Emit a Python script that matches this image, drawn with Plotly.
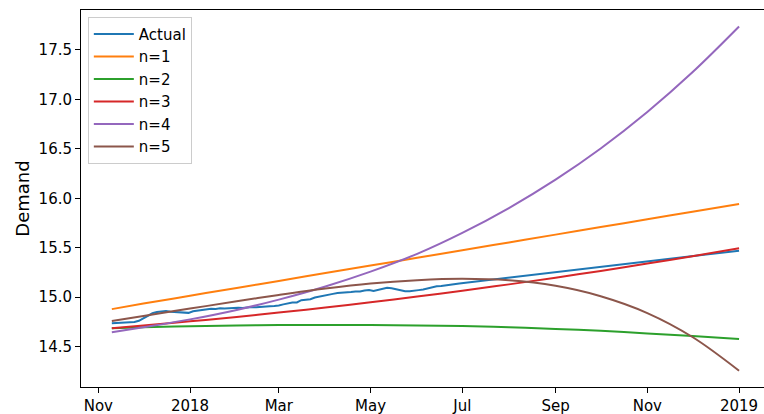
import pandas as pd
import plotly.graph_objects as go

# Observed demand, sampled every 3 days from 2017-11-10, plus the last reading
actual_start = "2017-11-10"
actual_values = [
    14.737, 14.740, 14.744, 14.748, 14.752, 14.749, 14.762, 14.788, 14.815, 14.838,
    14.852, 14.856, 14.861, 14.853, 14.850, 14.852, 14.843, 14.842, 14.858, 14.866,
    14.872, 14.878, 14.884, 14.882, 14.888, 14.886, 14.890, 14.887, 14.894, 14.892,
    14.898, 14.901, 14.899, 14.905, 14.908, 14.910, 14.912, 14.916, 14.928, 14.940,
    14.946, 14.947, 14.970, 14.975, 14.980, 14.997, 15.008, 15.018, 15.026, 15.034,
    15.042, 15.045, 15.042, 15.052, 15.057, 15.058, 15.067, 15.073, 15.064, 15.076,
    15.086, 15.096, 15.091, 15.080, 15.066, 15.061, 15.060, 15.063, 15.072, 15.078,
    15.090, 15.104, 15.110, 15.114, 15.119, 15.124, 15.128, 15.140,
]
actual_last_date = "2019-01-01"
actual_last_value = 15.471

# Polynomial fits of degree n, sampled at month starts
fit_dates = [
    "2017-11-10", "2017-12-01", "2018-01-01", "2018-02-01", "2018-03-01",
    "2018-04-01", "2018-05-01", "2018-06-01", "2018-07-01", "2018-08-01",
    "2018-09-01", "2018-10-01", "2018-11-01", "2018-12-01", "2019-01-01",
]
fit_n1 = [14.880, 14.936, 15.015, 15.094, 15.165, 15.244, 15.320, 15.399,
          15.475, 15.554, 15.633, 15.709, 15.788, 15.864, 15.943]
fit_n2 = [14.686, 14.696, 14.707, 14.715, 14.719, 14.720, 14.719, 14.714,
          14.708, 14.697, 14.680, 14.660, 14.634, 14.608, 14.578]
fit_n3 = [14.686, 14.714, 14.756, 14.801, 14.845, 14.896, 14.949, 15.007,
          15.066, 15.130, 15.198, 15.266, 15.340, 15.415, 15.495]
fit_n4 = [14.645, 14.696, 14.776, 14.872, 14.976, 15.109, 15.259, 15.439,
          15.651, 15.902, 16.189, 16.504, 16.873, 17.274, 17.737]
fit_n5 = [14.760, 14.811, 14.885, 14.959, 15.023, 15.088, 15.139, 15.172,
          15.186, 15.171, 15.115, 15.010, 14.840, 14.598, 14.257]

tick_dates = ["2017-11-01", "2018-01-01", "2018-03-01", "2018-05-01",
              "2018-07-01", "2018-09-01", "2018-11-01", "2019-01-01"]
tick_labels = ["Nov", "2018", "Mar", "May", "Jul", "Sep", "Nov", "2019"]
y_ticks = [14.5, 15.0, 15.5, 16.0, 16.5, 17.0, 17.5]

actual_dates = list(pd.date_range(actual_start, periods=len(actual_values), freq="3D"))
actual_dates.append(pd.Timestamp(actual_last_date))
actual_all = actual_values + [actual_last_value]

colors = ["#1f77b4", "#ff7f0e", "#2ca02c", "#d62728", "#9467bd", "#8c564b"]

fig = go.Figure()
fig.add_trace(go.Scatter(x=actual_dates, y=actual_all, mode="lines", name="Actual",
                         line=dict(color=colors[0], width=2), legendgroup="a"))
for i, (name, vals) in enumerate([("n=1", fit_n1), ("n=2", fit_n2), ("n=3", fit_n3),
                                   ("n=4", fit_n4), ("n=5", fit_n5)]):
    fig.add_trace(go.Scatter(x=pd.to_datetime(fit_dates), y=vals, mode="lines", name=name,
                             line=dict(color=colors[i + 1], width=2, shape="spline",
                                       smoothing=1.0),
                             legendgroup=name))

fig.update_layout(
    width=764, height=414,
    margin=dict(l=81, r=0, t=10, b=27),
    paper_bgcolor="white", plot_bgcolor="white",
    font=dict(family="DejaVu Sans", size=15, color="black"),
    showlegend=True,
    legend=dict(x=0.010, y=0.982, xanchor="left", yanchor="top",
                bgcolor="rgba(255,255,255,0.8)", bordercolor="#cccccc", borderwidth=1,
                font=dict(size=15), traceorder="grouped", tracegroupgap=0,
                itemwidth=40),
    xaxis=dict(
        range=["2017-10-20 12:00", "2019-01-17 14:00"],
        tickvals=tick_dates, ticktext=tick_labels,
        showgrid=False, zeroline=False,
        showline=True, linecolor="black", linewidth=1, mirror=True,
        ticks="outside", ticklen=5, tickcolor="black", tickwidth=1,
    ),
    yaxis=dict(
        range=[14.0925, 17.904],
        tickvals=y_ticks, ticktext=[f"{v:.1f}" for v in y_ticks],
        showgrid=False, zeroline=False,
        showline=True, linecolor="black", linewidth=1,
        ticks="outside", ticklen=5, tickcolor="black", tickwidth=1,
        title=dict(text="Demand", standoff=4),
    ),
)

fig.write_html("out.html")
